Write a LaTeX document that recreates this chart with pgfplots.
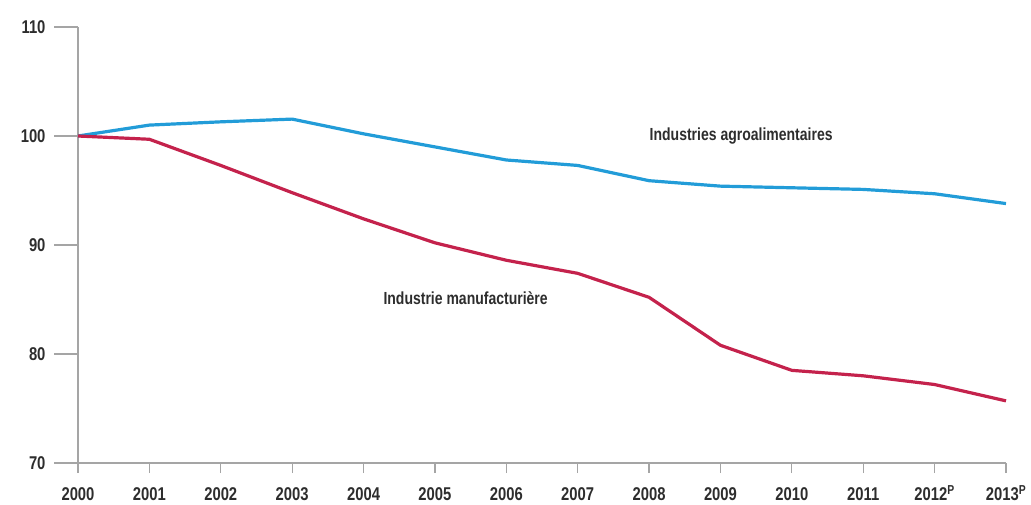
\documentclass[border=0pt]{standalone}
\usepackage{pgfplots}
\pgfplotsset{compat=1.18}
\usepackage{fontspec}
\setmainfont{Liberation Sans}[FakeStretch=0.8]
\definecolor{agro}{RGB}{34,156,216}
\definecolor{manu}{RGB}{196,34,76}
\definecolor{axisgray}{RGB}{165,165,165}
\definecolor{txt}{RGB}{45,45,45}
\begin{document}
\begin{tikzpicture}
\begin{axis}[
  at={(0,0)}, anchor=south west,
  scale only axis, width=928pt, height=436pt,
  xmin=0, xmax=13, ymin=70, ymax=110,
  axis x line*=bottom, axis y line*=left,
  axis line style={axisgray, line width=1.3pt},
  xtick={0,...,13},
  xticklabels={2000,2001,2002,2003,2004,2005,2006,2007,2008,2009,2010,2011,2012\textsuperscript{P},2013\textsuperscript{P}},
  ytick={70,80,90,100,110},
  tick align=outside,
  major tick length=10pt,
  tick style={axisgray, line width=1.2pt},
  ytick style={draw=none},
  yticklabel style={xshift=-19pt},
  xticklabel style={yshift=-11pt, text height=13pt, text depth=0pt},
  ticklabel style={font=\fontsize{18.5}{18.5}\selectfont\bfseries, text=txt},
  /pgf/number format/assume math mode=true,
  clip=false,
]
\pgfplotsinvokeforeach{70,80,90,100,110}{
  \draw[axisgray, line width=1.2pt] (axis cs:0,#1) -- ([xshift=-24pt]axis cs:0,#1);
}
\addplot[color=agro, line width=3.2pt, line join=round] coordinates {
(0,100) (1,101.0) (2,101.3) (3,101.55) (4,100.2) (5,99.0) (6,97.8) (7,97.3) (8,95.9) (9,95.4) (10,95.25) (11,95.1) (12,94.7) (13,93.8)};
\addplot[color=manu, line width=3.2pt, line join=round] coordinates {
(0,100) (1,99.7) (2,97.3) (3,94.8) (4,92.4) (5,90.2) (6,88.6) (7,87.4) (8,85.2) (9,80.8) (10,78.5) (11,78.0) (12,77.2) (13,75.7)};
\node[font=\fontsize{17.5}{17.5}\selectfont\bfseries, text=txt] at (axis cs:9.29,100.0) {Industries agroalimentaires};
\node[font=\fontsize{17.5}{17.5}\selectfont\bfseries, text=txt] at (axis cs:5.43,85.1) {Industrie manufacturière};
\end{axis}
\pgfresetboundingbox
\path (-78pt,-41pt) rectangle (953pt,463pt);
\end{tikzpicture}
\end{document}
